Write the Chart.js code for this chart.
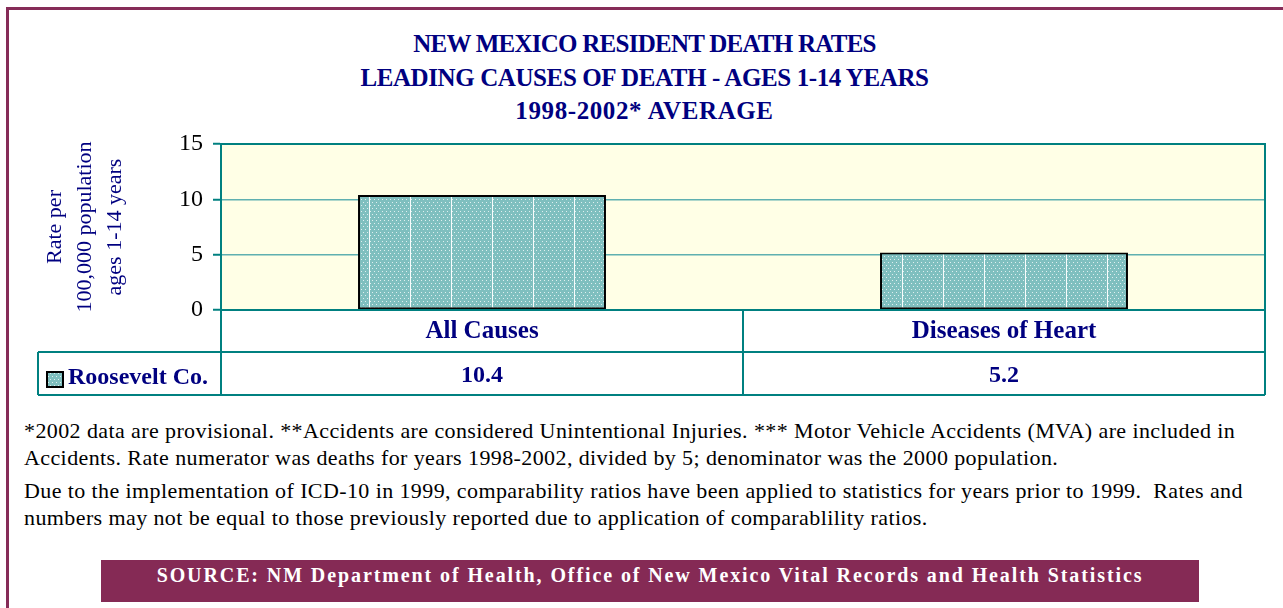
<!DOCTYPE html>
<html>
<head>
<meta charset="utf-8">
<script src="https://cdn.jsdelivr.net/npm/chart.js@4/dist/chart.umd.min.js"></script>
<style>
  body { margin: 0; background: #fff; overflow: hidden; font-family: 'Liberation Serif', 'Times New Roman', serif; }
  #frame { position: absolute; left: 6px; top: 7px; width: 1280px; height: 640px; border: 3px solid #862c58; box-sizing: border-box; }
  #title { position: absolute; left: 6px; top: 27px; width: 1277px; text-align: center; color: #000080;
           font-weight: bold; font-size: 25px; line-height: 33.5px; white-space: nowrap; }
  #wrap { position: absolute; left: 0; top: 0; width: 1283px; height: 400px; }
  #notes { position: absolute; left: 24px; top: 417px; font-size: 22px; letter-spacing: 0.4px; line-height: 27px; color: #000; white-space: nowrap; }
  #notes p { margin: 0 0 6px 0; }
  #source { position: absolute; left: 101px; top: 560px; width: 1098px; height: 42px; background: #852a55; color: #fff;
            font-weight: bold; font-size: 20px; letter-spacing: 1.9px; text-align: center; line-height: 30px; box-sizing: border-box; }
</style>
</head>
<body>
<div id="frame"></div>
<div id="title">
  <div style="letter-spacing:-0.75px">NEW MEXICO RESIDENT DEATH RATES</div>
  <div style="letter-spacing:-0.4px">LEADING CAUSES OF DEATH - AGES 1-14 YEARS</div>
  <div style="letter-spacing:0.6px">1998-2002* AVERAGE</div>
</div>
<div id="wrap"><canvas id="rateChart"></canvas></div>
<div id="notes">
  <p>*2002 data are provisional. **Accidents are considered Unintentional Injuries. *** Motor Vehicle Accidents (MVA) are included in<br>Accidents. Rate numerator was deaths for years 1998-2002, divided by 5; denominator was the 2000 population.</p>
  <p>Due to the implementation of ICD-10 in 1999, comparability ratios have been applied to statistics for years prior to 1999.&nbsp; Rates and<br>numbers may not be equal to those previously reported due to application of comparablility ratios.</p>
</div>
<div id="source">SOURCE: NM Department of Health, Office of New Mexico Vital Records and Health Statistics</div>
<script>
const causes = ['All Causes', 'Diseases of Heart'];
const rooseveltRates = [10.4, 5.2];
const seriesName = 'Roosevelt Co.';
const yTicks = [0, 5, 10, 15];

const NAVY = '#000080';
const TEAL = '#008080';
const SERIF = "'Liberation Serif', 'Times New Roman', serif";

// dotted teal fill with thin white stripes
function makePattern() {
  const c = document.createElement('canvas');
  c.width = 41; c.height = 6;
  const g = c.getContext('2d');
  g.fillStyle = '#7fbfbf';
  g.fillRect(0, 0, 41, 6);
  g.fillStyle = 'rgba(255,255,255,0.75)';
  for (let x = 1; x < 41; x += 4) g.fillRect(x, 1, 1, 1);
  for (let x = 3; x < 41; x += 4) g.fillRect(x, 4, 1, 1);
  g.fillStyle = 'rgba(255,255,255,0.95)';
  g.fillRect(0, 0, 1, 6);
  return g.createPattern(c, 'repeat');
}

const ctx = document.getElementById('rateChart');
const pattern = makePattern();

// plot background, frame and the data table under the axis
const tablePlugin = {
  id: 'dataTable',
  beforeDraw(chart) {
    const { ctx, chartArea: a } = chart;
    ctx.save();
    ctx.fillStyle = '#ffffe6';
    ctx.fillRect(a.left, a.top, a.right - a.left, a.bottom - a.top);
    ctx.restore();
  },
  afterDraw(chart) {
    const { ctx, chartArea: a } = chart;
    const xs = chart.scales.x;
    const rowTop = a.bottom, rowMid = a.bottom + 42, rowBot = a.bottom + 85;
    const legendLeft = 38;
    ctx.save();
    ctx.strokeStyle = TEAL;
    ctx.lineWidth = 2;
    ctx.strokeRect(a.left, a.top, a.right - a.left, a.bottom - a.top);
    ctx.beginPath();
    ctx.moveTo(legendLeft, rowMid); ctx.lineTo(a.right, rowMid);
    ctx.moveTo(legendLeft, rowBot); ctx.lineTo(a.right, rowBot);
    ctx.moveTo(legendLeft, rowMid); ctx.lineTo(legendLeft, rowBot);
    const step = (a.right - a.left) / causes.length;
    for (let i = 0; i <= causes.length; i++) {
      const x = a.left + step * i;
      ctx.moveTo(x, rowTop); ctx.lineTo(x, rowBot);
    }
    ctx.stroke();

    // legend key
    ctx.fillStyle = pattern;
    ctx.fillRect(47, 372, 16, 15);
    ctx.strokeStyle = '#000';
    ctx.strokeRect(47, 372, 16, 15);
    ctx.fillStyle = NAVY;
    ctx.font = 'bold 24px ' + SERIF;
    ctx.textBaseline = 'middle';
    ctx.textAlign = 'left';
    ctx.fillText(seriesName, 68, 378);

    // values row
    ctx.textAlign = 'center';
    rooseveltRates.forEach((v, i) => {
      ctx.fillText(v.toFixed(1), xs.getPixelForValue(i), 376);
    });
    ctx.restore();
  }
};

new Chart(ctx, {
  type: 'bar',
  data: {
    labels: causes,
    datasets: [{
      label: seriesName,
      data: rooseveltRates,
      backgroundColor: pattern,
      borderColor: '#000',
      borderWidth: 2,
      borderSkipped: false,
      categoryPercentage: 1,
      barPercentage: 0.475
    }]
  },
  options: {
    responsive: true,
    maintainAspectRatio: false,
    animation: false,
    layout: { padding: { left: 0, right: 18, top: 144, bottom: 0 } },
    plugins: {
      legend: { display: false },
      title: { display: false },
      tooltip: { enabled: false }
    },
    scales: {
      x: {
        offset: true,
        grid: { display: false, drawTicks: false },
        border: { color: TEAL, width: 2 },
        ticks: { color: NAVY, font: { family: SERIF, size: 25, weight: 'bold' }, padding: 7, maxRotation: 0 },
        afterFit: (s) => { s.height = 90; }
      },
      y: {
        min: 0,
        max: 15,
        afterBuildTicks: (s) => { s.ticks = yTicks.map(v => ({ value: v })); },
        grid: { color: '#5fb0b0', lineWidth: 1.5, tickLength: 8, tickColor: TEAL, tickWidth: 2 },
        border: { color: TEAL, width: 2 },
        ticks: { color: '#000', font: { family: SERIF, size: 24 }, padding: 10 },
        title: {
          display: true,
          text: ['Rate per', '100,000 population', 'ages 1-14 years'],
          color: NAVY,
          font: { family: SERIF, size: 22, lineHeight: 1.36 },
          padding: { top: 40, bottom: 0 }
        },
        afterFit: (s) => { s.width = 221; }
      }
    }
  },
  plugins: [tablePlugin]
});
</script>
</body>
</html>
